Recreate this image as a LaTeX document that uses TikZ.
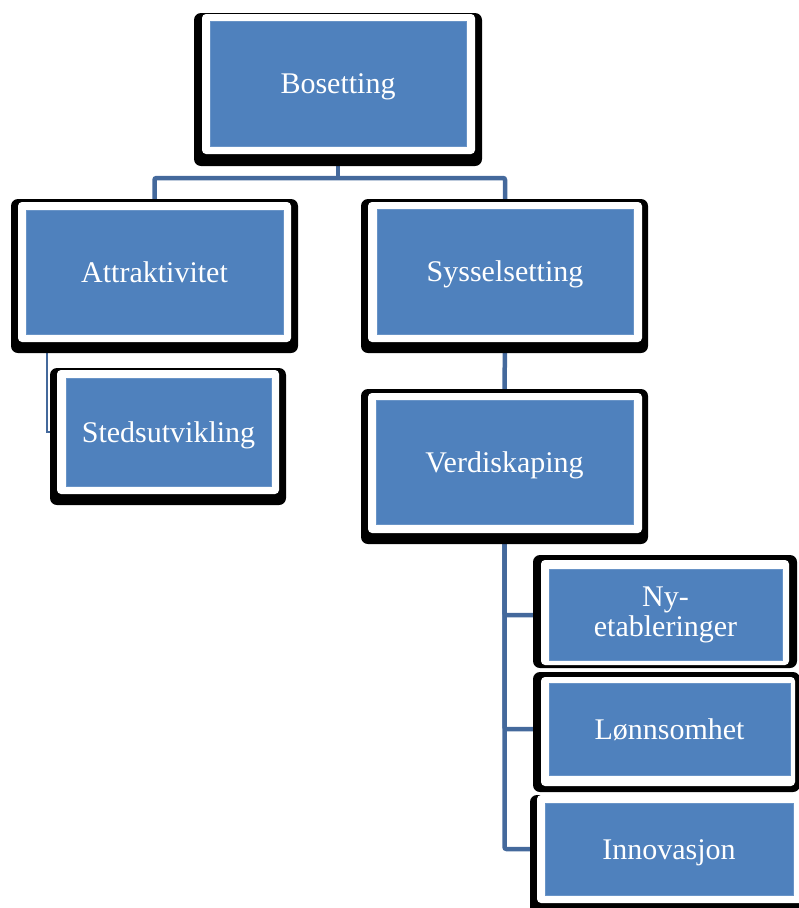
\documentclass[tikz,border=0pt]{standalone}
\usepackage{fontspec}
\setmainfont{Liberation Serif}
\usetikzlibrary{backgrounds}
\definecolor{boxblue}{HTML}{4F81BD}
\definecolor{connblue}{HTML}{44699C}
\newcommand{\orgbox}[9]{%
  \fill[outerblk] #2;
  \fill[innerwht] #3;
  \node[bluebox, #9, minimum width={#6pt-#4pt}, minimum height={#7pt-#5pt}]
    (#1) at ({(#4+#6)/2},{(#5+#7)/2}) {#8};
}
\begin{document}
\begin{tikzpicture}[x=1pt,y=-1pt,
  outerblk/.style={fill=black, rounded corners=7pt},
  innerwht/.style={fill=white, rounded corners=4pt},
  bluebox/.style={fill=boxblue, draw=boxblue!85!white, line width=0.6pt, text=white, inner sep=0pt,
    align=center, font=\fontsize{30}{30}\selectfont},
  oneline/.style={text height=20pt, text depth=0pt},
  conn/.style={draw=connblue, line width=4.5pt, rounded corners=2pt},
  connthin/.style={draw=connblue, line width=2.5pt}]
\useasboundingbox (0,0) rectangle (799,908);
\clip (0,0) rectangle (799,908);
\orgbox{bos}{(194,13) rectangle (482,166)}{(202,14) rectangle (475,154)}{210}{21}{466}{146}{Bosetting}{oneline}
\orgbox{att}{(11,199) rectangle (298,353)}{(18,202) rectangle (291,342)}{26}{210}{283}{334}{Attraktivitet}{oneline}
\orgbox{sys}{(361,199) rectangle (648,353)}{(368,202) rectangle (642,342)}{377}{209}{633}{334}{Sysselsetting}{oneline}
\orgbox{sted}{(50,368) rectangle (286,505)}{(57,370) rectangle (279,494)}{66}{378}{271}{486}{Stedsutvikling}{oneline}
\orgbox{ver}{(361,389) rectangle (648,544)}{(368,393) rectangle (642,533)}{376}{400}{633}{524}{Verdiskaping}{oneline}
\orgbox{ny}{(533,555) rectangle (797,668)}{(541,560) rectangle (789,665)}{549}{567}{782}{658}{Ny-\\etableringer}{yshift=-2.5pt}
\orgbox{lon}{(533,672) rectangle (800,792)}{(541,677) rectangle (795,786)}{549}{683}{790}{775}{Lønnsomhet}{oneline}
\orgbox{inn}{(530,795) rectangle (812,915)}{(537,795) rectangle (805,903)}{545}{803}{793}{895}{Innovasjon}{oneline}
\coordinate (hbar) at (338,178);
\coordinate (attL) at (47,345);
\begin{pgfonlayer}{background}
  \draw[conn] (bos.south) -- (bos.south |- hbar);
  \draw[conn] (att.north) |- (hbar) -| (sys.north);
  \draw[conn] (sys.south) -- (ver.north);
  \draw[connthin] (attL) |- (sted.west);
  \draw[conn] (ver.south) |- (ny.west);
  \draw[conn] (ver.south) |- (lon.west);
  \draw[conn] (ver.south) |- (inn.west);
\end{pgfonlayer}
\end{tikzpicture}
\end{document}
